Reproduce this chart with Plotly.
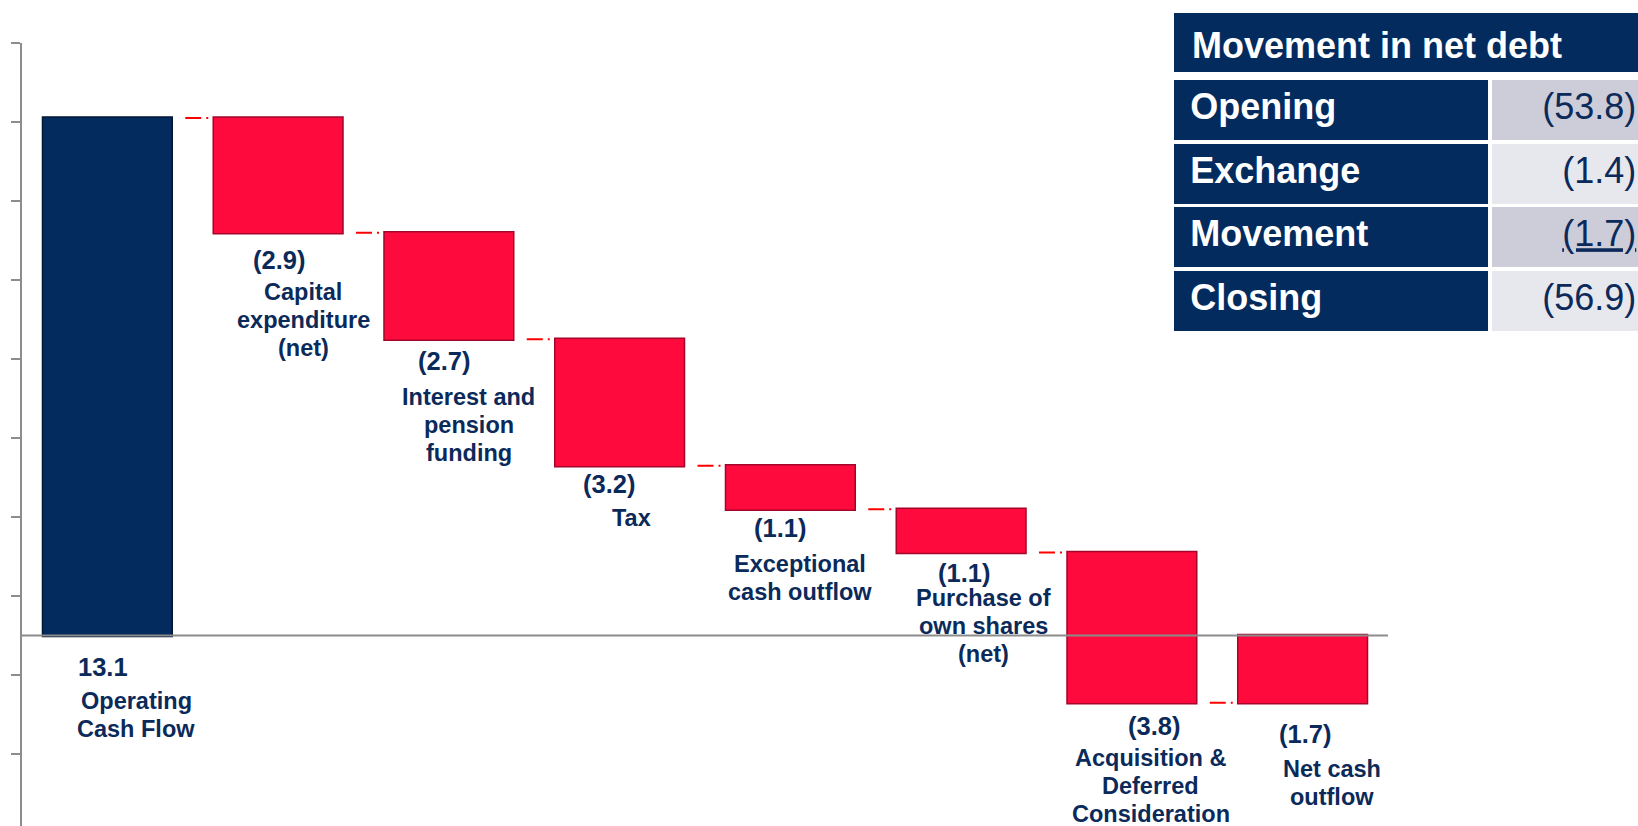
import numpy as np
import plotly.graph_objects as go

# ---------------- data ----------------
categories = ["Operating Cash Flow", "Capital expenditure (net)", "Interest and pension funding",
              "Tax", "Exceptional cash outflow", "Purchase of own shares (net)",
              "Acquisition & Deferred Consideration", "Net cash outflow"]
category_lines = [["Operating", "Cash Flow"], ["Capital", "expenditure", "(net)"],
                  ["Interest and", "pension", "funding"], ["Tax"],
                  ["Exceptional", "cash outflow"], ["Purchase of", "own shares", "(net)"],
                  ["Acquisition &", "Deferred", "Consideration"], ["Net cash", "outflow"]]
values = [13.1, -2.9, -2.7, -3.2, -1.1, -1.1, -3.8, -1.7]
measures = ["relative"] * 7 + ["total"]

table_title = "Movement in net debt"
table_rows = ["Opening", "Exchange", "Movement", "Closing"]
table_values = [-53.8, -1.4, -1.7, -56.9]

# ---------------- style ----------------
NAVY = "#032B5E"
RED = "#FF0A3C"
RED_EDGE = "#A3062A"
TXT = "#0B2A5A"
GRAY = "#8C8C8C"
FONT = "Liberation Sans"

# label nudges (pixels)
val_dx = [-4, 1, -5, -11, -10, 3, 22, 2]
val_dy = [31, 27, 22, 18, 19, 20, 23, 31]
cat_dx = [29, 25, 20, 12, 10, 22, 19, 29]
cat_dy = [34.5, 32.5, 35.5, 34, 35.5, 25, 32, 35]
LINE_GAP = 28

def fmt(v):
    return f"({abs(v):.1f})" if v < 0 else f"{v:.1f}"

# bar bottoms from the waterfall data
cum = np.cumsum(values[:-1])
prev = np.concatenate([[0.0], cum[:-1]])
bottoms = list(np.minimum(prev, cum)) + [min(0.0, float(cum[-1]))]

# the figure is slightly wider than the window so the table runs off the right edge
W, H = 1645, 826
def px_x(p):
    return p / W
def px_y(p):
    return 1 - p / H

fig = go.Figure()

fig.add_trace(go.Waterfall(
    x=categories, y=values, measure=measures,
    increasing=dict(marker=dict(color=NAVY, line=dict(color="#011733", width=1.5))),
    decreasing=dict(marker=dict(color=RED, line=dict(color=RED_EDGE, width=1.5))),
    totals=dict(marker=dict(color=RED, line=dict(color=RED_EDGE, width=1.5))),
    connector=dict(mode="between",
                   line=dict(color="#FF0000", width=2, dash="0px,13px,16px,5px,2px,40px")),
    textposition="none", hoverinfo="skip", showlegend=False,
))

annotations = []
for i, cat in enumerate(categories):
    annotations.append(dict(
        x=cat, y=bottoms[i], xref="x", yref="y", text=f"<b>{fmt(values[i])}</b>",
        showarrow=False, xanchor="center", yanchor="middle",
        xshift=val_dx[i], yshift=-val_dy[i],
        font=dict(family=FONT, size=25.5, color=TXT)))
    for j, line in enumerate(category_lines[i]):
        annotations.append(dict(
            x=cat, y=bottoms[i], xref="x", yref="y", text=f"<b>{line}</b>",
            showarrow=False, xanchor="center", yanchor="middle",
            xshift=cat_dx[i], yshift=-(val_dy[i] + cat_dy[i] + j * LINE_GAP),
            font=dict(family=FONT, size=23.5, color=TXT)))

# ---------------- table ----------------
annotations.append(dict(
    x=px_x(1190), y=px_y(45.5), xref="paper", yref="paper", text=f"<b>{table_title}</b>",
    showarrow=False, xanchor="left", yanchor="middle",
    font=dict(family=FONT, size=36, color="white")))
shapes = [dict(type="rect", xref="paper", yref="paper", x0=px_x(1174), x1=1,
               y0=px_y(72), y1=px_y(13), fillcolor=NAVY, line=dict(width=0), layer="below")]

tx0 = px_x(1174 - 1.75)
row_text = [f"<b>\u00a0{r}</b>" for r in table_rows]
val_text = [f"<span>{fmt(v)}</span>" for v in table_values]
val_text[2] = f"<u>{fmt(table_values[2])}</u>"
col1 = 318.25
col2 = W - (1174 - 1.75) - col1
fig.add_trace(go.Table(
    domain=dict(x=[tx0, 1], y=[px_y(345), px_y(78.25)]),
    columnwidth=[col1, col2],
    header=dict(values=["", ""], height=0, fill_color="rgba(0,0,0,0)", line=dict(width=0)),
    cells=dict(values=[row_text, val_text],
               fill_color=[[NAVY] * 4, ["#CDCDD9", "#E7E7EE", "#CDCDD9", "#E7E7EE"]],
               font=dict(color=["white", TXT], size=36, family=FONT),
               align=["left", "right"], height=63.5,
               line=dict(color="white", width=3.5)),
))

# zero line drawn above the bars
shapes.append(dict(type="line", xref="x domain", yref="y", x0=0, x1=1, y0=0, y1=0,
                   line=dict(color=GRAY, width=2), layer="above"))

fig.update_layout(
    width=W, height=H, margin=dict(l=0, r=0, t=0, b=0),
    paper_bgcolor="white", plot_bgcolor="white",
    waterfallgap=0.24,
    xaxis=dict(domain=[px_x(22), px_x(1388)], range=[-0.5, 7.5], showticklabels=False,
               showgrid=False, zeroline=False, showline=False, ticks=""),
    yaxis=dict(domain=[0, px_y(43)], range=[-4.82, 15], showticklabels=False,
               showgrid=False, zeroline=False, showline=True, linecolor=GRAY, linewidth=2,
               ticks="outside", ticklen=9, tickwidth=2, tickcolor=GRAY,
               tickmode="array", tickvals=list(range(-3, 16, 2))),
    shapes=shapes,
    annotations=annotations,
)

fig.write_html("out.html", config={"displayModeBar": False},
               post_script="document.body.style.margin='0';document.body.style.overflow='hidden';")
